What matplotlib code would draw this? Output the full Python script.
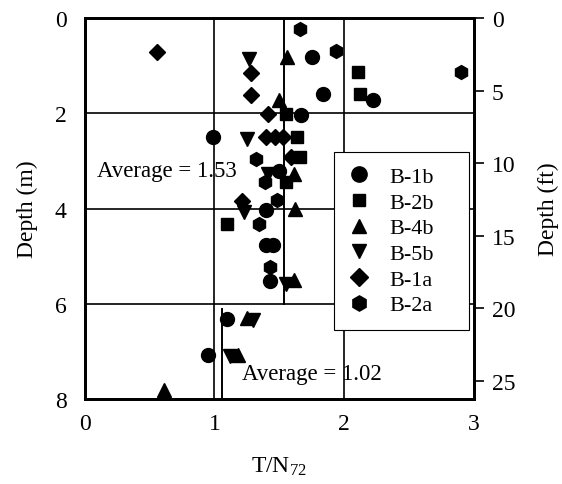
import matplotlib
matplotlib.use("Agg")
import matplotlib.pyplot as plt
import numpy as np

plt.rcParams['font.family'] = ['Liberation Serif', 'DejaVu Serif']
plt.rcParams['mathtext.fontset'] = 'custom'
plt.rcParams['mathtext.rm'] = 'Liberation Serif'
plt.rcParams['mathtext.it'] = 'Liberation Serif:italic'

# ---- data (T/N72, depth in m) ----
b1b_x = [1.75, 1.84, 2.22, 1.665, 0.99, 1.50, 1.40, 1.40, 1.45, 1.43, 1.10, 0.95]
b1b_y = [0.82, 1.59, 1.73, 2.03, 2.49, 3.22, 4.03, 4.77, 4.77, 5.53, 6.31, 7.08]

b2b_x = [2.11, 2.12, 1.555, 1.64, 1.66, 1.555, 1.10]
b2b_y = [1.14, 1.59, 2.01, 2.50, 2.92, 3.44, 4.32]

b4b_x = [1.56, 1.50, 1.61, 1.62, 1.61, 1.25, 1.18, 0.61]
b4b_y = [0.81, 1.72, 3.27, 4.00, 5.51, 6.30, 7.08, 7.81]

b5b_x = [1.27, 1.25, 1.41, 1.23, 1.555, 1.30, 1.12]
b5b_y = [0.86, 2.54, 3.27, 4.07, 5.58, 6.33, 7.10]

b1a_x = [0.56, 1.28, 1.28, 1.41, 1.40, 1.465, 1.53, 1.59, 1.21]
b1a_y = [0.71, 1.15, 1.61, 2.01, 2.50, 2.50, 2.50, 2.92, 3.85]

b2a_x = [1.66, 1.94, 2.90, 1.32, 1.39, 1.48, 1.34, 1.43]
b2a_y = [0.23, 0.69, 1.14, 2.96, 3.44, 3.83, 4.32, 5.23]

series_labels = ['B-1b', 'B-2b', 'B-4b', 'B-5b', 'B-1a', 'B-2a']
series_markers = ['o', 's', '^', 'v', 'D', 'h']
series_sizes = [10, 8.5, 9.5, 9.5, 8.5, 10]

avg_upper = 1.54      # drawn position of "Average = 1.53" line (0 - 6 m)
avg_lower = 1.06      # drawn position of "Average = 1.02" line (6.1 - 8 m)
avg_upper_text = 'Average = 1.53'
avg_lower_text = 'Average = 1.02'

x_ticks = [0, 1, 2, 3]
y_ticks = [0, 2, 4, 6, 8]
ft_ticks = [0, 5, 10, 15, 20, 25]
M_PER_FT = 0.3048

FS = 17

fig = plt.figure(figsize=(5.62, 4.85), dpi=100)
ax = fig.add_axes([0.151, 0.175, 0.692, 0.786])

xs = [b1b_x, b2b_x, b4b_x, b5b_x, b1a_x, b2a_x]
ys = [b1b_y, b2b_y, b4b_y, b5b_y, b1a_y, b2a_y]

# grid lines
for gx in [1, 2]:
    ax.axvline(gx, color='black', lw=1.2, zorder=1)
for gy in [2, 4, 6]:
    ax.axhline(gy, color='black', lw=1.2, zorder=1)

# average lines
ax.plot([avg_upper, avg_upper], [0, 6], color='black', lw=1.4, zorder=1)
ax.plot([avg_lower, avg_lower], [6.1, 8], color='black', lw=1.4, zorder=1)

for x, y, lab, m, s in zip(xs, ys, series_labels, series_markers, series_sizes):
    ax.plot(x, y, linestyle='none', marker=m, ms=s, color='black',
            markeredgecolor='black', label=lab, zorder=3)

ax.text(0.09, 3.21, avg_upper_text, fontsize=16.5, ha='left', va='center', zorder=4)
ax.text(1.21, 7.46, avg_lower_text, fontsize=16.5, ha='left', va='center', zorder=4)

ax.set_xlim(0, 3)
ax.set_ylim(8, 0)
ax.set_xticks(x_ticks)
ax.set_yticks(y_ticks)
ax.tick_params(axis='both', length=0, labelsize=FS)
ax.tick_params(axis='x', pad=10)
ax.tick_params(axis='y', pad=13)
for sp in ax.spines.values():
    sp.set_linewidth(2.0)

ax.set_xlabel(r'T/N$_{\mathregular{72}}$', fontsize=FS, labelpad=15)
ax.set_ylabel('Depth (m)', fontsize=FS, labelpad=12)

ax2 = ax.twinx()
ax2.set_ylim(8 / M_PER_FT, 0)
ax2.set_yticks(ft_ticks)
ax2.tick_params(axis='y', length=7, width=1.2, direction='out', labelsize=FS, pad=6)
for sp in ax2.spines.values():
    sp.set_linewidth(2.0)
ax2.set_ylabel('Depth (ft)', fontsize=FS, labelpad=16)

leg = ax.legend(loc='upper left', bbox_to_anchor=(0.64, 0.18, 0.347, 0.468),
                mode='expand', frameon=True,
                fancybox=False, edgecolor='black', framealpha=1, fontsize=16,
                handletextpad=0.85, labelspacing=0.23, borderpad=0.65,
                handlelength=1.0, borderaxespad=0, markerscale=1.1)
leg.get_frame().set_linewidth(0.8)
leg.set_zorder(10)

fig.savefig('out.png', dpi=100)
